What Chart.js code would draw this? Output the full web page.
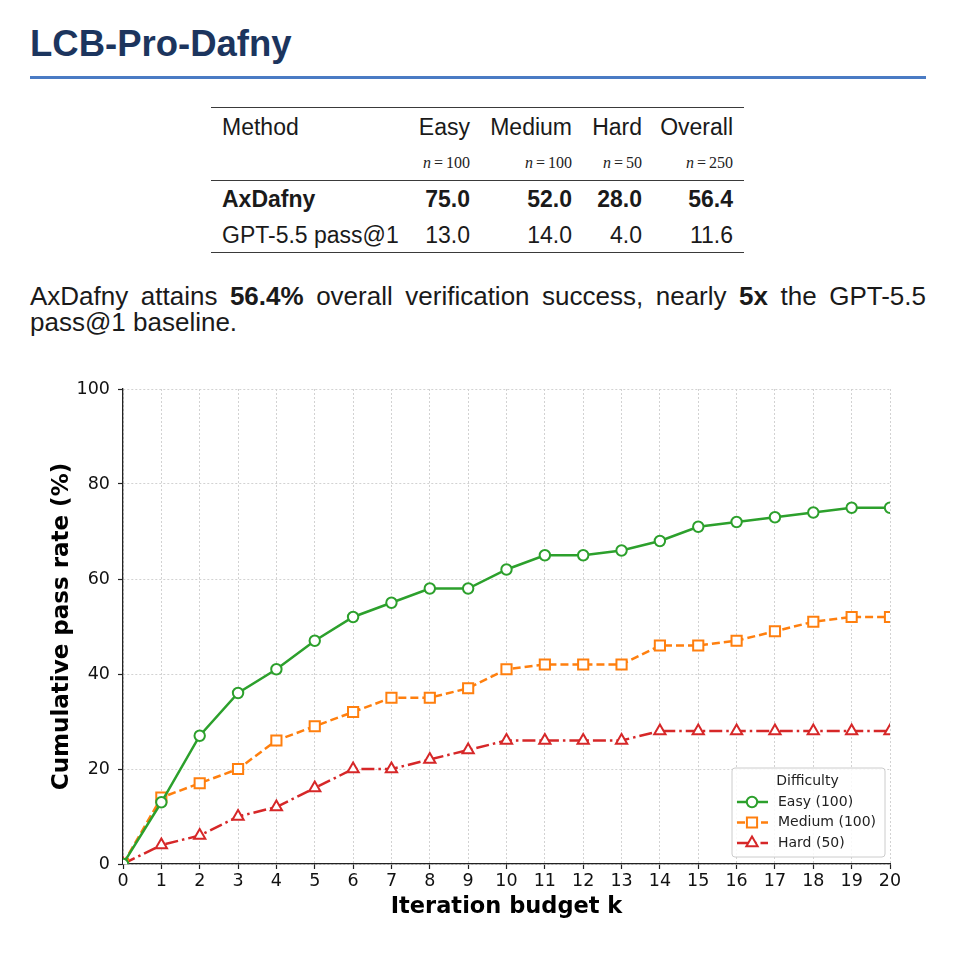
<!DOCTYPE html>
<html>
<head>
<meta charset="utf-8">
<script src="https://cdn.jsdelivr.net/npm/chart.js@4.4.1/dist/chart.umd.min.js"></script>
<style>
  html, body { margin: 0; padding: 0; background: #fff; }
  body { width: 958px; height: 980px; position: relative; overflow: hidden;
         font-family: "Liberation Sans", Arial, Helvetica, sans-serif; color: #1a1a1a; }
  #title { position: absolute; left: 30px; top: 22px; font-size: 36.5px; font-weight: bold;
           color: #1c355e; line-height: 44px; white-space: nowrap; }
  #rule { position: absolute; left: 30px; top: 76px; width: 896px; height: 3px; background: #4a7bc4; }
  #tbl { position: absolute; left: 211px; top: 107px; width: 533px; border-collapse: collapse;
         table-layout: fixed; font-size: 23px; color: #1a1a1a; }
  #tbl td { padding: 0 11px 0 0; text-align: right; white-space: nowrap; vertical-align: middle; }
  #tbl td:first-child { text-align: left; padding: 0 0 0 11px; }
  #tbl tr.hdr td { height: 38px; border-top: 1.5px solid #3a3a3a; }
  #tbl tr.nrow td { height: 34px; border-bottom: 1px solid #3a3a3a; font-family: "Liberation Serif", "DejaVu Serif", serif; font-size: 16px; color: #222; }
  #tbl tr.nrow i { margin-right: 3px; }
  #tbl tr.nrow .eq { margin-right: 3px; }
  #tbl tr.r1 td { height: 37px; font-weight: bold; }
  #tbl tr.r2 td { height: 34px; border-bottom: 1.5px solid #3a3a3a; }
  .para { position: absolute; left: 30px; width: 896px; font-size: 26px; line-height: 26px; color: #1a1a1a; white-space: nowrap; }
  #para1 { top: 283px; text-align: justify; text-align-last: justify; }
  #para2 { top: 309px; text-align: left; }
  #chartWrap { position: absolute; left: 0; top: 370px; width: 958px; height: 570px; }
</style>
</head>
<body>
<div id="title">LCB-Pro-Dafny</div>
<div id="rule"></div>
<table id="tbl">
  <colgroup><col style="width:197px"><col style="width:73px"><col style="width:102px"><col style="width:70px"><col style="width:91px"></colgroup>
  <tbody id="tbody"></tbody>
</table>
<div class="para" id="para1" style="white-space:normal">AxDafny attains <b>56.4%</b> overall verification success, nearly <b>5x</b> the GPT-5.5</div>
<div class="para" id="para2">pass@1 baseline.</div>
<div id="chartWrap"><canvas id="c" width="958" height="570"></canvas></div>

<script>
// ---------------- Data ----------------
const tableHeaders = ["Method", "Easy", "Medium", "Hard", "Overall"];
const tableCounts = [100, 100, 50, 250];
const tableMethods = ["AxDafny", "GPT-5.5 pass@1"];
const axDafnyScores = [75.0, 52.0, 28.0, 56.4];
const gptPass1Scores = [13.0, 14.0, 4.0, 11.6];

const iterations = [0, 1, 2, 3, 4, 5, 6, 7, 8, 9, 10, 11, 12, 13, 14, 15, 16, 17, 18, 19, 20];
const easyPass   = [0, 13, 27, 36, 41, 47, 52, 55, 58, 58, 62, 65, 65, 66, 68, 71, 72, 73, 74, 75, 75];
const mediumPass = [0, 14, 17, 20, 26, 29, 32, 35, 35, 37, 41, 42, 42, 42, 46, 46, 47, 49, 51, 52, 52];
const hardPass   = [0, 4, 6, 10, 12, 16, 20, 20, 22, 24, 26, 26, 26, 26, 28, 28, 28, 28, 28, 28, 28];
const seriesLabels = ["Easy (100)", "Medium (100)", "Hard (50)"];
const legendTitle = "Difficulty";
const xTicks = iterations;
const yTicks = [0, 20, 40, 60, 80, 100];

// ---------------- Table ----------------
(function buildTable() {
  const tb = document.getElementById('tbody');
  let h = '<tr class="hdr">' + tableHeaders.map(t => '<td>' + t + '</td>').join('') + '</tr>';
  h += '<tr class="nrow"><td></td>' + tableCounts.map(n => '<td><i>n</i><span class="eq">=</span>' + n + '</td>').join('') + '</tr>';
  const rows = [axDafnyScores, gptPass1Scores];
  rows.forEach((r, i) => {
    h += '<tr class="r' + (i + 1) + '"><td>' + tableMethods[i] + '</td>' + r.map(v => '<td>' + v.toFixed(1) + '</td>').join('') + '</tr>';
  });
  tb.innerHTML = h;
})();

// ---------------- Chart ----------------
const pts = arr => iterations.map((x, i) => ({ x: x, y: arr[i] }));

const legendPlugin = {
  id: 'boxLegend',
  afterDraw(chart) {
    const ctx = chart.ctx, ca = chart.chartArea;
    const w = 153, h = 89;
    const left = ca.right - 158, top = ca.bottom - 96;
    ctx.save();
    ctx.beginPath();
    const r = 3;
    ctx.moveTo(left + r, top);
    ctx.arcTo(left + w, top, left + w, top + h, r);
    ctx.arcTo(left + w, top + h, left, top + h, r);
    ctx.arcTo(left, top + h, left, top, r);
    ctx.arcTo(left, top, left + w, top, r);
    ctx.closePath();
    ctx.fillStyle = 'rgba(255,255,255,0.85)';
    ctx.fill();
    ctx.lineWidth = 1;
    ctx.strokeStyle = '#cccccc';
    ctx.stroke();

    ctx.fillStyle = '#222';
    ctx.font = '14px "DejaVu Sans"';
    ctx.textAlign = 'center';
    ctx.textBaseline = 'middle';
    ctx.fillText(legendTitle, left + w / 2 - 1, top + 13);

    const rowsY = [top + 34, top + 54.5, top + 75];
    chart.data.datasets.forEach((ds, i) => {
      const y = rowsY[i];
      ctx.save();
      ctx.strokeStyle = ds.borderColor;
      ctx.lineWidth = ds.borderWidth;
      ctx.setLineDash(ds.borderDash || []);
      ctx.beginPath();
      ctx.moveTo(left + 5, y);
      ctx.lineTo(left + 36, y);
      ctx.stroke();
      ctx.setLineDash([]);
      ctx.fillStyle = ds.pointBackgroundColor;
      ctx.strokeStyle = ds.borderColor;
      ctx.lineWidth = ds.pointBorderWidth;
      Chart.helpers.drawPoint(ctx, { pointStyle: ds.pointStyle, rotation: 0, radius: ds.pointRadius, borderWidth: ds.pointBorderWidth }, left + 20, y);
      ctx.restore();
      ctx.fillStyle = '#222';
      ctx.font = '14px "DejaVu Sans"';
      ctx.textAlign = 'left';
      ctx.textBaseline = 'middle';
      ctx.fillText(ds.label, left + 46, y);
    });
    ctx.restore();
  }
};

const tickFont = { family: 'DejaVu Sans', size: 17.5 };
const gridCommon = { color: '#d2d2d2', lineWidth: 1, tickLength: 5, tickColor: '#222', tickWidth: 1.2 };

new Chart(document.getElementById('c'), {
  type: 'line',
  data: {
    datasets: [
      { label: seriesLabels[0], data: pts(easyPass), borderColor: '#2ca02c', backgroundColor: '#2ca02c',
        borderWidth: 2.5, borderDash: [], pointStyle: 'circle', pointRadius: 5.2,
        pointBorderWidth: 2, pointBackgroundColor: '#ffffff', pointBorderColor: '#2ca02c', tension: 0 },
      { label: seriesLabels[1], data: pts(mediumPass), borderColor: '#ff7f0e', backgroundColor: '#ff7f0e',
        borderWidth: 2.5, borderDash: [8, 4], pointStyle: 'rect', pointRadius: 7.2,
        pointBorderWidth: 2, pointBackgroundColor: '#ffffff', pointBorderColor: '#ff7f0e', tension: 0 },
      { label: seriesLabels[2], data: pts(hardPass), borderColor: '#d62728', backgroundColor: '#d62728',
        borderWidth: 2.5, borderDash: [13, 4, 2.5, 4], pointStyle: 'triangle', pointRadius: 6.5,
        pointBorderWidth: 2, pointBackgroundColor: '#ffffff', pointBorderColor: '#d62728', tension: 0 }
    ]
  },
  options: {
    responsive: false,
    animation: false,
    devicePixelRatio: 1,
    layout: { padding: { top: 19, right: 68, left: 0, bottom: 0 } },
    plugins: { legend: { display: false }, tooltip: { enabled: false } },
    scales: {
      x: {
        type: 'linear', min: 0, max: 20,
        afterBuildTicks: s => { s.ticks = xTicks.map(v => ({ value: v })); },
        afterFit: s => { s.height = 76; },
        ticks: { font: tickFont, color: '#111', padding: 2, maxRotation: 0, autoSkip: false },
        grid: gridCommon,
        border: { display: true, color: '#222', width: 1.3, dash: [2, 2] },
        title: { display: true, text: 'Iteration budget k', color: '#000',
                 font: { family: 'DejaVu Sans', size: 22.5, weight: 'bold' }, padding: { top: 0, bottom: 19.5 } }
      },
      y: {
        min: 0, max: 100,
        afterBuildTicks: s => { s.ticks = yTicks.map(v => ({ value: v })); },
        afterFit: s => { s.width = 123; },
        ticks: { font: tickFont, color: '#111', padding: 8 },
        grid: gridCommon,
        border: { display: true, color: '#222', width: 1.3, dash: [2, 2] },
        title: { display: true, text: 'Cumulative pass rate (%)', color: '#000',
                 font: { family: 'DejaVu Sans', size: 23, weight: 'bold' }, padding: { top: 48, bottom: 0 } }
      }
    }
  },
  plugins: [legendPlugin]
});
</script>
</body>
</html>
